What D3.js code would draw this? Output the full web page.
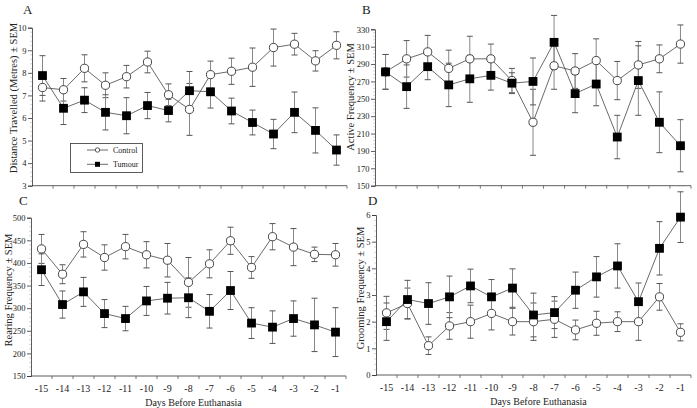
<!DOCTYPE html>
<html><head><meta charset="utf-8">
<script src="https://cdn.jsdelivr.net/npm/d3@7/dist/d3.min.js"></script>
<style>
body{margin:0;background:#fff;}
svg text{font-family:"Liberation Serif","DejaVu Serif",serif;fill:#222;}
</style></head>
<body><svg id="c" width="697" height="408"></svg>
<script>
const days = ["-15","-14","-13","-12","-11","-10","-9","-8","-7","-6","-5","-4","-3","-2","-1"];

// Panel A: Distance Travelled
const distControl = [7.35,7.25,8.2,7.45,7.83,8.48,7.03,6.38,7.92,8.07,8.25,9.12,9.27,8.53,9.22];
const distControlSem = [0.6,0.5,0.6,0.55,0.5,0.48,0.48,1.15,0.6,0.58,0.85,0.82,0.48,0.45,0.6];
const distTumour = [7.88,6.43,6.79,6.25,6.1,6.55,6.33,7.21,7.16,6.31,5.8,5.29,6.25,5.45,4.58];
const distTumourSem = [0.88,0.72,0.55,0.78,0.8,0.58,0.5,0.85,0.72,0.57,0.55,0.65,0.9,1.0,0.67];
const distTicks = [3,4,5,6,7,8,9,10];

// Panel B: Active Frequency
const actControl = [281,296,304,285,296,296,271,223,288,282,294,271,289,296,313];
const actControlSem = [20,21,19,21,26,17,14,38,27,20,25,22,27,16,22];
const actTumour = [281,264,287,266,273,277,268,270,315,256,267,206,271,223,196];
const actTumourSem = [20,25,15,25,27,17,12,27,31,22,25,25,40,35,30];
const actTicks = [150,170,190,210,230,250,270,290,310,330];

// Panel C: Rearing Frequency
const rearControl = [431,375,441,412,436,418,406,357,398,449,390,458,435,419,418];
const rearControlSem = [32,21,28,28,27,29,37,55,31,30,24,29,41,16,25];
const rearTumour = [385,308,336,288,277,316,322,323,293,339,267,258,277,263,247];
const rearTumourSem = [35,30,32,31,27,32,35,44,37,42,34,36,39,59,54];
const rearTicks = [150,200,250,300,350,400,450,500];

// Panel D: Grooming Frequency
const groomControl = [2.33,2.68,1.1,1.84,2.0,2.31,2.0,2.0,2.09,1.69,1.94,2.0,2.0,2.93,1.6];
const groomControlSem = [0.62,0.58,0.33,0.5,0.62,0.62,0.5,0.7,0.68,0.37,0.45,0.37,0.7,0.5,0.32];
const groomTumour = [2.0,2.83,2.68,2.93,3.34,2.93,3.26,2.25,2.34,3.18,3.68,4.09,2.75,4.75,5.92];
const groomTumourSem = [0.7,0.72,0.78,0.78,0.63,0.65,0.72,0.82,0.6,0.68,0.76,0.83,0.7,1.0,0.95];
const groomTicks = [0,1,2,3,4,5,6];

const seriesNames = ["Control","Tumour"];

const svg = d3.select("#c");

const panels = [
  {letter:"A", lx:23, ly:14, x0:32, x1:347, yTop:27.7, yBot:185.7, dom:[3,10], ticks:distTicks,
   title:"Distance Travelled (Metres) \u00b1 SEM", tx:13, ty:98,
   c:distControl, cs:distControlSem, t:distTumour, ts:distTumourSem, xlabels:false, legend:true},
  {letter:"B", lx:362, ly:14, x0:375, x1:691, yTop:29.3, yBot:185.7, dom:[150,330], ticks:actTicks,
   title:"Active Frequency \u00b1 SEM", tx:350, ty:97,
   c:actControl, cs:actControlSem, t:actTumour, ts:actTumourSem, xlabels:false},
  {letter:"C", lx:19, ly:205, x0:31, x1:346, yTop:217.7, yBot:376, dom:[150,500], ticks:rearTicks,
   title:"Rearing Frequency \u00b1 SEM", tx:8, ty:290,
   c:rearControl, cs:rearControlSem, t:rearTumour, ts:rearTumourSem, xlabels:true},
  {letter:"D", lx:368, ly:205, x0:376, x1:691, yTop:215, yBot:375, dom:[0,6], ticks:groomTicks,
   title:"Grooming Frequency \u00b1 SEM", tx:360, ty:288,
   c:groomControl, cs:groomControlSem, t:groomTumour, ts:groomTumourSem, xlabels:true}
];

panels.forEach(p => {
  const g = svg.append("g");
  const x = d3.scaleBand().domain(days).range([p.x0, p.x1]).padding(0);
  const y = d3.scaleLinear().domain(p.dom).range([p.yBot, p.yTop]);

  g.append("text").attr("x", p.lx).attr("y", p.ly).attr("font-size", 13).text(p.letter);

  // minor y ticks
  const step = p.ticks[1]-p.ticks[0];
  const minor = [];
  for (let i=0;i<p.ticks.length-1;i++) for (let k=1;k<5;k++) minor.push(p.ticks[i]+step*k/5);
  g.selectAll(".mn").data(minor).join("line")
    .attr("x1", p.x0-2).attr("x2", p.x0).attr("y1", d=>y(d)).attr("y2", d=>y(d))
    .attr("stroke","#bbb").attr("stroke-width",0.6);

  // y axis
  const ya = d3.axisLeft(y).tickValues(p.ticks).tickSize(4).tickPadding(1.5).tickFormat(d3.format("d"));
  const yg = g.append("g").attr("transform",`translate(${p.x0},0)`).call(ya);
  yg.select(".domain").attr("stroke","#333").attr("stroke-width",0.8);
  yg.selectAll(".tick line").attr("stroke","#333").attr("stroke-width",0.8);
  yg.selectAll("text").attr("font-size",8.5).attr("font-family","Liberation Serif").attr("fill","#333");

  // x axis line and ticks at band edges
  g.append("line").attr("x1",p.x0).attr("x2",p.x1).attr("y1",p.yBot).attr("y2",p.yBot)
    .attr("stroke","#333").attr("stroke-width",0.8);
  g.selectAll(".xt").data(days.slice(1)).join("line")
    .attr("x1", d=>x(d)).attr("x2", d=>x(d)).attr("y1", p.yBot).attr("y2", p.yBot+3)
    .attr("stroke","#555").attr("stroke-width",0.8);
  g.append("line").attr("x1",p.x1).attr("x2",p.x1).attr("y1",p.yBot).attr("y2",p.yBot+3)
    .attr("stroke","#555").attr("stroke-width",0.8);

  if (p.xlabels) {
    g.selectAll(".xl").data(days).join("text")
      .attr("x", d=>x(d)+x.bandwidth()/2).attr("y", p.yBot+16)
      .attr("text-anchor","middle").attr("font-size",10).text(d=>d);
    g.append("text").attr("x",(p.x0+p.x1)/2+5).attr("y",p.yBot+30)
      .attr("text-anchor","middle").attr("font-size",10).text("Days Before Euthanasia");
  }

  // y title
  g.append("text").attr("transform",`translate(${p.tx},${p.ty}) rotate(-90)`)
    .attr("text-anchor","middle").attr("dy","0.35em").attr("font-size",10.5).text(p.title);

  const cx = d => x(d)+x.bandwidth()/2;
  const sets = [{v:p.c, s:p.cs},{v:p.t, s:p.ts}];

  // error bars
  sets.forEach(S => {
    const eg = g.append("g");
    days.forEach((d,i) => {
      const hi = y(S.v[i]+S.s[i]), lo = y(S.v[i]-S.s[i]);
      eg.append("line").attr("x1",cx(d)).attr("x2",cx(d)).attr("y1",hi).attr("y2",lo)
        .attr("stroke","#888").attr("stroke-width",1);
      [hi,lo].forEach(yy => eg.append("line").attr("x1",cx(d)-3).attr("x2",cx(d)+3)
        .attr("y1",yy).attr("y2",yy).attr("stroke","#555").attr("stroke-width",1));
    });
  });

  // lines
  const line = d3.line().x((v,i)=>cx(days[i])).y(v=>y(v));
  sets.forEach(S => {
    g.append("path").attr("d", line(S.v)).attr("fill","none")
      .attr("stroke","#444").attr("stroke-width",0.8);
  });

  // markers
  g.selectAll(".cm").data(p.c).join("circle")
    .attr("cx",(v,i)=>cx(days[i])).attr("cy",v=>y(v)).attr("r",4.1)
    .attr("fill","#fff").attr("stroke","#333").attr("stroke-width",0.9);
  g.selectAll(".tm").data(p.t).join("rect")
    .attr("x",(v,i)=>cx(days[i])-4.4).attr("y",v=>y(v)-4.4).attr("width",8.8).attr("height",8.8)
    .attr("fill","#000");

  if (p.legend) {
    const lg = g.append("g");
    lg.append("rect").attr("x",70.5).attr("y",143.5).attr("width",72).attr("height",29)
      .attr("fill","#fff").attr("stroke","#333").attr("stroke-width",0.8);
    seriesNames.forEach((name,i) => {
      const yy = 150 + i*14.3;
      lg.append("line").attr("x1",87).attr("x2",108).attr("y1",yy).attr("y2",yy)
        .attr("stroke","#444").attr("stroke-width",0.8);
      if (i===0) lg.append("circle").attr("cx",97.5).attr("cy",yy).attr("r",2.2)
        .attr("fill","#fff").attr("stroke","#333").attr("stroke-width",0.8);
      else lg.append("rect").attr("x",95).attr("y",yy-2.5).attr("width",5).attr("height",5).attr("fill","#000");
      lg.append("text").attr("x",113).attr("y",yy).attr("dy","0.35em").attr("font-size",8).text(name);
    });
  }
});
</script></body></html>
